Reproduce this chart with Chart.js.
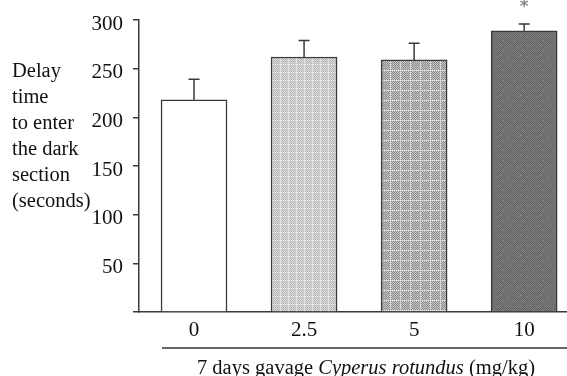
<!DOCTYPE html>
<html>
<head>
<meta charset="utf-8">
<script src="https://cdn.jsdelivr.net/npm/chart.js@4.4.1/dist/chart.umd.min.js"></script>
<style>
  html, body { margin: 0; padding: 0; background: #fff; }
  #wrap { width: 567px; height: 376px; }
</style>
</head>
<body>
<div id="wrap"><canvas id="grafica" width="567" height="376"></canvas></div>
<script>
// datos
const categorias = ['0', '2.5', '5', '10'];
const medias = [218, 262, 259, 289];
const errores = [21, 17, 17, 7];
const marcas = ['', '', '', '*'];
const ticksY = [0, 50, 100, 150, 200, 250, 300];
const tituloY = ['Delay', 'time', 'to enter', 'the dark', 'section', '(seconds)'];
const tituloX = [
    { texto: '7 days gavage ', italica: false },
    { texto: 'Cyperus rotundus', italica: true },
    { texto: ' (mg/kg)', italica: false }
];

const FUENTE = '"Liberation Serif", "Times New Roman", serif';
const TAM = 21;
const TAM_TITULO = 20.5;

// patrones de relleno de las barras
function crearPatron(tam, pintar) {
    const c = document.createElement('canvas');
    c.width = tam; c.height = tam;
    const g = c.getContext('2d');
    pintar(g, tam);
    return document.getElementById('grafica').getContext('2d').createPattern(c, 'repeat');
}

function ajedrez(g, tam, a, b) {
    for (let y = 0; y < tam; y++) {
        for (let x = 0; x < tam; x++) {
            g.fillStyle = (x + y) % 2 === 0 ? a : b;
            g.fillRect(x, y, 1, 1);
        }
    }
}

const patron25 = crearPatron(8, (g, t) => {
    ajedrez(g, t, '#bcbcbc', '#d4d4d4');
    g.fillStyle = '#f6f6f6';
    for (let y = 0; y < t; y += 2) g.fillRect(0, y, 1, 1);
    for (let x = 1; x < t; x += 2) g.fillRect(x, 0, 1, 1);
});

const patron5 = crearPatron(10, (g, t) => {
    ajedrez(g, t, '#8a8a8a', '#c6c6c6');
    g.fillStyle = '#eeeeee';
    for (let y = 0; y < t; y += 2) g.fillRect(0, y, 1, 1);
    for (let x = 0; x < t; x += 2) g.fillRect(x, 0, 1, 1);
});

const patron10 = crearPatron(10, (g, t) => {
    ajedrez(g, t, '#686868', '#787878');
    g.fillStyle = '#9a9a9a';
    g.fillRect(3, 0, 1, 1);
    g.fillRect(0, 5, 1, 1);
    g.fillRect(7, 6, 1, 1);
});

// barras de error y marca de significancia
const pluginErrores = {
    id: 'errores',
    afterDatasetsDraw(chart) {
        const ctx = chart.ctx;
        const meta = chart.getDatasetMeta(0);
        const ejeY = chart.scales.y;
        ctx.save();
        ctx.strokeStyle = '#3a3a3a';
        ctx.lineWidth = 1.5;
        meta.data.forEach((barra, i) => {
            const yBase = ejeY.getPixelForValue(medias[i]);
            const yTope = ejeY.getPixelForValue(medias[i] + errores[i]);
            ctx.beginPath();
            ctx.moveTo(barra.x, yBase);
            ctx.lineTo(barra.x, yTope);
            ctx.moveTo(barra.x - 5.5, yTope);
            ctx.lineTo(barra.x + 5.5, yTope);
            ctx.stroke();
            if (marcas[i]) {
                ctx.fillStyle = '#8a8a8a';
                ctx.font = 'bold 17px "DejaVu Sans", sans-serif';
                ctx.textAlign = 'center';
                ctx.textBaseline = 'middle';
                ctx.fillText(marcas[i], barra.x, yTope - 16);
            }
        });
        ctx.restore();
    }
};

// titulos de los ejes (horizontal a la izquierda y subrayado abajo)
const pluginTitulos = {
    id: 'titulos',
    afterDraw(chart) {
        const ctx = chart.ctx;
        ctx.save();
        ctx.fillStyle = '#111';
        ctx.font = TAM_TITULO + 'px ' + FUENTE;
        ctx.textAlign = 'left';
        ctx.textBaseline = 'alphabetic';
        tituloY.forEach((linea, i) => ctx.fillText(linea, 12, 77 + i * 26));

        ctx.strokeStyle = '#333';
        ctx.lineWidth = 1.5;
        ctx.beginPath();
        ctx.moveTo(162, 348);
        ctx.lineTo(567, 348);
        ctx.stroke();

        let ancho = 0;
        tituloX.forEach(p => {
            ctx.font = (p.italica ? 'italic ' : '') + TAM_TITULO + 'px ' + FUENTE;
            p.ancho = ctx.measureText(p.texto).width;
            ancho += p.ancho;
        });
        let x = 366 - ancho / 2;
        tituloX.forEach(p => {
            ctx.font = (p.italica ? 'italic ' : '') + TAM_TITULO + 'px ' + FUENTE;
            ctx.fillText(p.texto, x, 374);
            x += p.ancho;
        });
        ctx.restore();
    }
};

const grafica = new Chart(document.getElementById('grafica'), {
    type: 'bar',
    data: {
        datasets: [{
            data: medias.map((m, i) => ({ x: i, y: m })),
            backgroundColor: ['#ffffff', patron25, patron5, patron10],
            borderColor: '#3a3a3a',
            borderWidth: 1.5,
            barThickness: 66
        }]
    },
    options: {
        responsive: false,
        animation: false,
        layout: { padding: { top: 20, right: 1, left: 0, bottom: 0 } },
        plugins: {
            legend: { display: false },
            tooltip: { enabled: false }
        },
        scales: {
            x: {
                type: 'linear',
                min: -0.5,
                max: 3.38,
                offset: false,
                bounds: 'data',
                grid: { display: false },
                border: { display: true, color: '#3a3a3a', width: 1.5 },
                afterBuildTicks: eje => { eje.ticks = categorias.map((c, i) => ({ value: i })); },
                afterFit: eje => {
                    eje.height = 64;
                    eje.paddingLeft = 0;
                    eje.paddingRight = 0;
                },
                ticks: {
                    autoSkip: false,
                    maxRotation: 0,
                    padding: -2,
                    color: '#111',
                    font: { family: FUENTE, size: TAM },
                    callback: v => categorias[v]
                }
            },
            y: {
                min: 0,
                max: 300,
                afterBuildTicks: eje => { eje.ticks = ticksY.map(v => ({ value: v })); },
                afterFit: eje => {
                    eje.width = 139;
                    eje.paddingTop = 0;
                    eje.paddingBottom = 0;
                },
                grid: { drawOnChartArea: false, tickLength: 6, color: '#3a3a3a', lineWidth: 1.5 },
                border: { display: true, color: '#3a3a3a', width: 1.5 },
                ticks: {
                    padding: 10,
                    labelOffset: 4,
                    color: '#111',
                    font: { family: FUENTE, size: TAM },
                    callback: v => (v === 0 ? '' : String(v))
                }
            }
        }
    },
    plugins: [pluginErrores, pluginTitulos]
});
</script>
</body>
</html>
